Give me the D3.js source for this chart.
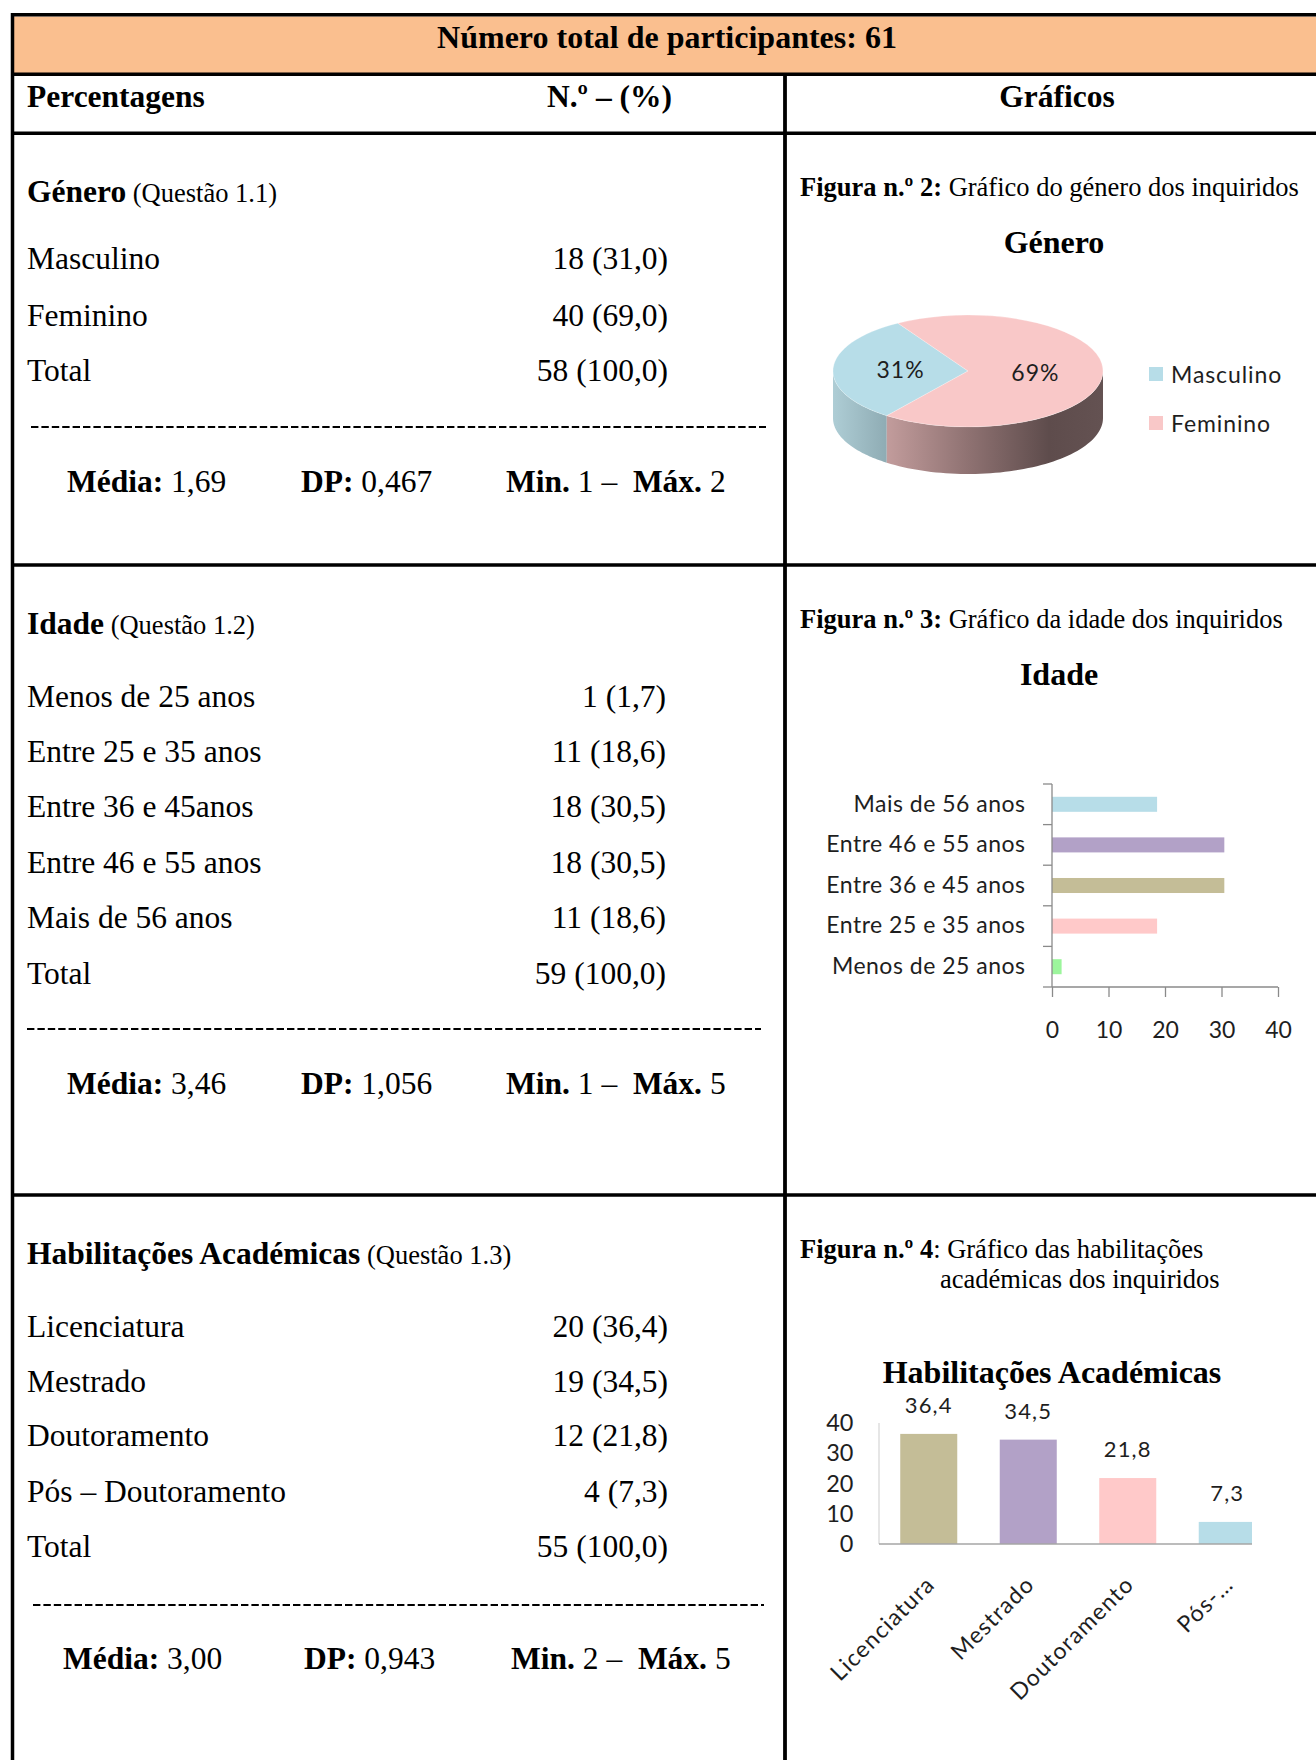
<!DOCTYPE html>
<html><head><meta charset="utf-8">
<script src="https://cdn.jsdelivr.net/npm/d3@7"></script>
<style>
html,body{margin:0;padding:0;background:#fff;}
svg{display:block;}
text{white-space:pre;}
.serif{font-family:"Liberation Serif","Times New Roman",serif;fill:#000;}
.sans{font-family:Lato,"Open Sans",sans-serif;fill:#1e1e1e;}
</style></head><body>
<svg id="c" width="1316" height="1760"></svg>
<script>
// ---------------- DATA ----------------
const headerTitle = "Número total de participantes: 61";
const headerCols = ["Percentagens", "N.º – (%)", "Gráficos"];

const generoLabels = ["Masculino", "Feminino", "Total"];
const generoValues = ["18 (31,0)", "40 (69,0)", "58 (100,0)"];
const generoStats = ["1,69", "0,467", "1", "2"];
const generoCats = ["Masculino", "Feminino"];
const generoCounts = [18, 40];
const generoColors = ["#b7dde8", "#f9c8c8"];

const idadeLabels = ["Menos de 25 anos", "Entre 25 e 35 anos", "Entre 36 e 45anos", "Entre 46 e 55 anos", "Mais de 56 anos", "Total"];
const idadeValues = ["1 (1,7)", "11 (18,6)", "18 (30,5)", "18 (30,5)", "11 (18,6)", "59 (100,0)"];
const idadeStats = ["3,46", "1,056", "1", "5"];
const idadeCats = ["Menos de 25 anos", "Entre 25 e 35 anos", "Entre 36 e 45 anos", "Entre 46 e 55 anos", "Mais de 56 anos"];
const idadePct = [1.7, 18.6, 30.5, 30.5, 18.6];
const idadeColors = ["#9cf59c", "#ffc9c9", "#c4bd97", "#b2a1c7", "#b7dde8"];
const idadeTicks = [0, 10, 20, 30, 40];

const habLabels = ["Licenciatura", "Mestrado", "Doutoramento", "Pós – Doutoramento", "Total"];
const habValues = ["20 (36,4)", "19 (34,5)", "12 (21,8)", "4 (7,3)", "55 (100,0)"];
const habStats = ["3,00", "0,943", "2", "5"];
const habCats = ["Licenciatura", "Mestrado", "Doutoramento", "Pós-…"];
const habPct = [36.4, 34.5, 21.8, 7.3];
const habColors = ["#c4bd97", "#b2a1c7", "#ffc9c9", "#b7dde8"];
const habTicks = [0, 10, 20, 30, 40];

// ---------------- DRAW ----------------
const svg = d3.select("#c");
svg.append("rect").attr("width", 1316).attr("height", 1760).attr("fill", "#fff");
const defs = svg.append("defs");

function txt(g, x, y, parts, opts = {}) {
  const t = g.append("text").attr("class", opts.cls || "serif")
    .attr("x", x).attr("y", y)
    .attr("font-size", opts.size || 31.5)
    .attr("text-anchor", opts.anchor || "start");
  parts.forEach(p => {
    const s = t.append("tspan").text(p[0]);
    if (p[1]) s.attr("font-weight", "bold");
    if (p[2]) s.attr("font-size", p[2]);
  });
  return t;
}

// Table frame
const frame = svg.append("g");
frame.append("rect").attr("x", 12.5).attr("y", 16.5).attr("width", 1316 - 12.5).attr("height", 56.5).attr("fill", "#fabf8f");
const hLines = [14.8, 74.3, 133.3, 565, 1195];
hLines.forEach(y => frame.append("line").attr("x1", 11).attr("x2", 1316).attr("y1", y).attr("y2", y)
  .attr("stroke", "#000").attr("stroke-width", 3.5));
frame.append("line").attr("x1", 12.5).attr("x2", 12.5).attr("y1", 13).attr("y2", 1760).attr("stroke", "#000").attr("stroke-width", 3.5);
frame.append("line").attr("x1", 785).attr("x2", 785).attr("y1", 74).attr("y2", 1760).attr("stroke", "#000").attr("stroke-width", 3.8);

// Header
txt(svg, 667, 47.5, [[headerTitle, true]], { anchor: "middle", size: 32 });
txt(svg, 27, 107, [[headerCols[0], true]]);
txt(svg, 547, 107, [[headerCols[1], true]]);
txt(svg, 1057, 107, [[headerCols[2], true]], { anchor: "middle" });

// Left sections
const sections = [
  { title: "Género", q: "(Questão 1.1)", titleY: 191, rowY: [258.5, 315, 370], dashY: 427, statY: 481,
    labels: generoLabels, values: generoValues, stats: generoStats, statX: [67, 301, 506], dashX: [31, 766], valX: 668 },
  { title: "Idade", q: "(Questão 1.2)", titleY: 623, rowY: [696, 751, 806, 862, 917, 973], dashY: 1029, statY: 1083.5,
    labels: idadeLabels, values: idadeValues, stats: idadeStats, statX: [67, 301, 506], dashX: [27, 761], valX: 666 },
  { title: "Habilitações Académicas", q: "(Questão 1.3)", titleY: 1253, rowY: [1326, 1381, 1435, 1491, 1546.5], dashY: 1605, statY: 1658,
    labels: habLabels, values: habValues, stats: habStats, statX: [63, 304, 511], dashX: [33, 764], valX: 668 }
];
const BL = 10.5;
sections.forEach(s => {
  txt(svg, 27, s.titleY + BL, [[s.title, true], [" " + s.q, false, 26.5]]);
  s.labels.forEach((l, i) => {
    txt(svg, 27, s.rowY[i] + BL, [[l]]);
    txt(svg, s.valX, s.rowY[i] + BL, [[s.values[i]]], { anchor: "end" });
  });
  svg.append("line").attr("x1", s.dashX[0]).attr("x2", s.dashX[1]).attr("y1", s.dashY).attr("y2", s.dashY)
    .attr("stroke", "#000").attr("stroke-width", 1.8).attr("stroke-dasharray", "7.4 3");
  txt(svg, s.statX[0], s.statY + BL, [["Média:", true], [" " + s.stats[0]]]);
  txt(svg, s.statX[1], s.statY + BL, [["DP:", true], [" " + s.stats[1]]]);
  txt(svg, s.statX[2], s.statY + BL, [["Min.", true], [" " + s.stats[2] + " –  "], ["Máx.", true], [" " + s.stats[3]]]);
});

// Figure captions
txt(svg, 800, 196, [["Figura n.º 2:", true], [" Gráfico do género dos inquiridos"]], { size: 26.5 });
txt(svg, 800, 628, [["Figura n.º 3:", true], [" Gráfico da idade dos inquiridos"]], { size: 26.5 });
txt(svg, 800, 1258, [["Figura n.º 4", true], [": Gráfico das habilitações"]], { size: 26.5 });
txt(svg, 940, 1288, [["académicas dos inquiridos"]], { size: 26.5 });

// Chart titles
txt(svg, 1054, 253, [["Género", true]], { anchor: "middle", size: 32 });
txt(svg, 1059, 685, [["Idade", true]], { anchor: "middle", size: 32 });
txt(svg, 1052, 1383, [["Habilitações Académicas", true]], { anchor: "middle", size: 32 });

// ---------- Pie (3D look) ----------
(function () {
  const cx = 968, cy = 371, rx = 135, ry = 56, depth = 47;
  const deg = Math.PI / 180;
  const pie = d3.pie().sort(null).startAngle(217 * deg).endAngle(577 * deg);
  const arcs = pie(generoCounts);
  const P = (a, dz) => [cx + rx * Math.sin(a), cy - ry * Math.cos(a) + (dz || 0)];

  const gF = defs.append("linearGradient").attr("id", "sideF").attr("gradientUnits", "userSpaceOnUse")
    .attr("x1", cx - rx).attr("x2", cx + rx).attr("y1", 0).attr("y2", 0);
  [[0, "#c8a3a3"], [0.2, "#c29c9c"], [0.5, "#8f7272"], [0.8, "#5e4c4c"], [1, "#645252"]]
    .forEach(s => gF.append("stop").attr("offset", s[0]).attr("stop-color", s[1]));
  const gM = defs.append("linearGradient").attr("id", "sideM").attr("gradientUnits", "userSpaceOnUse")
    .attr("x1", cx - rx).attr("x2", cx - rx + 55).attr("y1", 0).attr("y2", 0);
  [[0, "#aecdd5"], [1, "#8eabb3"]].forEach(s => gM.append("stop").attr("offset", s[0]).attr("stop-color", s[1]));
  const sideFill = ["url(#sideM)", "url(#sideF)"];

  const g = svg.append("g");
  const fronts = [[90 * deg, 270 * deg], [450 * deg, 630 * deg]];
  arcs.forEach((a, i) => {
    fronts.forEach(f => {
      const s = Math.max(a.startAngle, f[0]), e = Math.min(a.endAngle, f[1]);
      if (e <= s) return;
      const n = 60, pts = [];
      for (let k = 0; k <= n; k++) pts.push(P(s + (e - s) * k / n));
      for (let k = n; k >= 0; k--) pts.push(P(s + (e - s) * k / n, depth));
      g.append("path").attr("d", d3.line()(pts) + "Z").attr("fill", sideFill[i]);
    });
  });
  const top = g.append("g").attr("transform", `translate(${cx},${cy}) scale(1,${ry / rx})`);
  const arc = d3.arc().innerRadius(0).outerRadius(rx);
  top.selectAll("path").data(arcs).join("path").attr("d", arc).attr("fill", (d, i) => generoColors[i])
    .attr("stroke", "rgba(255,255,255,0.35)").attr("stroke-width", 1);
  arcs.forEach(a => {
    const c = arc.centroid(a);
    const pct = Math.round(100 * a.value / d3.sum(generoCounts)) + "%";
    g.append("text").attr("class", "sans").attr("x", cx + c[0]).attr("y", cy + c[1] * ry / rx + 8.5)
      .attr("text-anchor", "middle").attr("font-size", 23).attr("letter-spacing", 1).text(pct);
  });
  // legend
  generoCats.forEach((c, i) => {
    const y = 367 + i * 49;
    g.append("rect").attr("x", 1149).attr("y", y).attr("width", 14).attr("height", 14).attr("fill", generoColors[i]);
    g.append("text").attr("class", "sans").attr("x", 1171).attr("y", y + 15.5).attr("font-size", 23)
      .attr("letter-spacing", 0.9).text(c);
  });
})();

// ---------- Idade horizontal bars ----------
(function () {
  const g = svg.append("g");
  const x = d3.scaleLinear().domain([0, 40]).range([1052, 1278]);
  const y = d3.scaleBand().domain(idadeCats.slice().reverse()).range([784, 987]).paddingInner(0.63).paddingOuter(0.315);
  g.selectAll("rect.bar").data(idadeCats).join("rect").attr("class", "bar")
    .attr("x", x(0)).attr("y", d => y(d)).attr("height", y.bandwidth())
    .attr("width", (d, i) => x(idadePct[i]) - x(0)).attr("fill", (d, i) => idadeColors[i]);
  const axC = "#8a8a8a";
  const yAx = g.append("g").attr("transform", `translate(${x(0)},0)`)
    .call(d3.axisLeft(y).tickSize(0).tickPadding(26.5));
  yAx.select(".domain").remove();
  yAx.attr("font-family", null).attr("font-size", null);
  yAx.selectAll("text").attr("class", "sans").attr("font-size", 23).attr("letter-spacing", 0.5).attr("fill", "#1e1e1e");
  const r0 = y.range()[0];
  d3.range(idadeCats.length + 1).forEach(i => {
    const yy = r0 + i * y.step();
    g.append("line").attr("x1", x(0) - 9).attr("x2", x(0)).attr("y1", yy).attr("y2", yy).attr("stroke", axC).attr("stroke-width", 1.3);
  });
  g.append("line").attr("x1", x(0)).attr("x2", x(0)).attr("y1", y.range()[0]).attr("y2", y.range()[1]).attr("stroke", axC).attr("stroke-width", 1.3);
  const xAx = g.append("g").attr("transform", `translate(0,${y.range()[1]})`)
    .call(d3.axisBottom(x).tickValues(idadeTicks).tickSize(10).tickPadding(24.8).tickFormat(d3.format("d")));
  xAx.select(".domain").attr("stroke", axC).attr("stroke-width", 1.3).attr("d", `M${x(0)},0H${x(40)}`);
  xAx.selectAll("line").attr("stroke", axC).attr("stroke-width", 1.3);
  xAx.attr("font-family", null).attr("font-size", null);
  xAx.selectAll("text").attr("class", "sans").attr("font-size", 23).attr("fill", "#1e1e1e");
})();

// ---------- Habilitações vertical bars ----------
(function () {
  const g = svg.append("g");
  const x = d3.scaleBand().domain(habCats).range([879, 1277]).paddingInner(0.427).paddingOuter(0.2135);
  const y = d3.scaleLinear().domain([0, 40]).range([1544, 1423]);
  const clipR = 1252;
  defs.append("clipPath").attr("id", "habClip").append("rect")
    .attr("x", 860).attr("y", 1380).attr("width", clipR - 860).attr("height", 200);
  const gc = g.append("g").attr("clip-path", "url(#habClip)");
  gc.selectAll("rect").data(habCats).join("rect")
    .attr("x", d => x(d)).attr("width", x.bandwidth())
    .attr("y", (d, i) => y(habPct[i])).attr("height", (d, i) => y(0) - y(habPct[i]))
    .attr("fill", (d, i) => habColors[i]);
  g.append("line").attr("x1", x.range()[0]).attr("x2", x.range()[0]).attr("y1", y(0)).attr("y2", y(40))
    .attr("stroke", "#d6d6d6").attr("stroke-width", 1.2);
  g.append("line").attr("x1", x.range()[0]).attr("x2", clipR).attr("y1", y(0)).attr("y2", y(0))
    .attr("stroke", "#a6a6a6").attr("stroke-width", 1.6);
  const yAx = g.append("g").attr("transform", `translate(${x.range()[0]},0)`)
    .call(d3.axisLeft(y).tickValues(habTicks).tickSize(0).tickPadding(25.5).tickFormat(d3.format("d")));
  yAx.select(".domain").remove();
  yAx.attr("font-family", null).attr("font-size", null);
  yAx.selectAll("text").attr("class", "sans").attr("font-size", 23.5).attr("fill", "#1e1e1e");
  habCats.forEach((c, i) => {
    g.append("text").attr("class", "sans").attr("text-anchor", "middle").attr("font-size", 22).attr("letter-spacing", 1.2)
      .attr("x", x(c) + x.bandwidth() / 2).attr("y", y(habPct[i]) - 21)
      .text(String(habPct[i]).replace(".", ","));
  });
  habCats.forEach(c => {
    const px = x(c) + x.bandwidth() / 2 + 7.5, py = y(0) + 42;
    g.append("text").attr("class", "sans").attr("text-anchor", "end").attr("font-size", 23).attr("letter-spacing", 1.2)
      .attr("transform", `translate(${px},${py}) rotate(-45)`).text(c);
  });
})();
</script>
</body></html>
